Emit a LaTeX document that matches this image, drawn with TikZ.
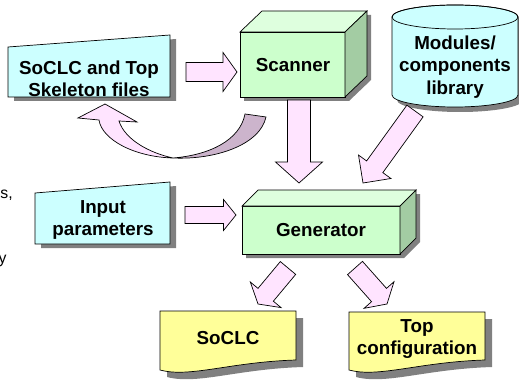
\documentclass[tikz,border=0pt]{standalone}
\usepackage{fontspec}
\setmainfont{Liberation Sans}
\usetikzlibrary{calc}
\definecolor{BoxCyan}{RGB}{204,255,255}
\definecolor{BoxGreen}{RGB}{204,255,204}
\definecolor{TopGreen}{RGB}{222,255,222}
\definecolor{SideGreen}{RGB}{163,204,163}
\definecolor{DocYellow}{RGB}{255,255,153}
\definecolor{ArrowPink}{RGB}{255,228,255}
\definecolor{ArrowMauve}{RGB}{204,180,204}
\definecolor{ShadowGray}{RGB}{128,128,128}

\tikzset{
  boxline/.style={draw=black,line width=0.4pt},
  boxtext/.style={font=\fontsize{10.7}{12.8}\selectfont\bfseries,align=center,inner sep=0pt},
  cuttext/.style={font=\fontsize{9}{11}\selectfont,anchor=base east,inner sep=0pt},
  fatarrow/.style={draw=black,fill=ArrowPink,line width=0.4pt,line join=miter},
}

% block arrow: from, to, half body, half head, head length
\newcommand{\blockarrow}[5]{%
  \coordinate (ba head) at ($(#2)!#5!(#1)$);
  \draw[fatarrow] ($(#1)!#3!90:(#2)$) -- ($(ba head)!#3!90:(#2)$)
    -- ($(ba head)!#4!90:(#2)$) -- (#2)
    -- ($(ba head)!#4!-90:(#2)$) -- ($(ba head)!#3!-90:(#2)$)
    -- ($(#1)!#3!-90:(#2)$) -- cycle;}

\begin{document}
\begin{tikzpicture}[x=0.02cm,y=-0.02cm]
\useasboundingbox (0,0) rectangle (519,381);

% clipped text at the left border
\node[cuttext] (cut1) at (13,198) {s,};
\node[cuttext] (cut2) at (7,263) {y};

% input files
\fill[ShadowGray] (14,51) -- (176,39) -- (176,101) -- (14,101) -- cycle;
\draw[boxline,fill=BoxCyan] (8,47) -- (170,35) -- (170,97) -- (8,97) -- cycle;
\node[boxtext] (files) at (89,79) {SoCLC and Top\\Skeleton files};

\fill[ShadowGray] (41,197) -- (176,186) -- (176,248) -- (41,248) -- cycle;
\draw[boxline,fill=BoxCyan] (35,193) -- (170,182) -- (170,244) -- (35,244) -- cycle;
\node[boxtext] (input) at (103,220) {Input\\parameters};

% scanner
\fill[ShadowGray] (244,101) -- (244,36) -- (266,15) -- (371,15) -- (371,80) -- (349,101) -- cycle;
\draw[boxline,fill=BoxGreen] (240,32) rectangle (345,97);
\draw[boxline,fill=TopGreen] (240,32) -- (262,11) -- (367,11) -- (345,32) -- cycle;
\draw[boxline,fill=SideGreen] (345,32) -- (367,11) -- (367,76) -- (345,97) -- cycle;
\node[boxtext] (scanner) at (293,65) {Scanner};

% generator
\fill[ShadowGray] (246,258) -- (246,210) -- (262,194) -- (420,194) -- (420,242) -- (404,258) -- cycle;
\draw[boxline,fill=BoxGreen] (242,206) rectangle (400,254);
\draw[boxline,fill=TopGreen] (242,206) -- (258,190) -- (416,190) -- (400,206) -- cycle;
\draw[boxline,fill=SideGreen] (400,206) -- (416,190) -- (416,238) -- (400,254) -- cycle;
\node[boxtext] (generator) at (321,230) {Generator};

% library
\fill[ShadowGray] (397,22) -- (397,100) arc (180:0:63 and 12) -- (523,22) arc (360:180:63 and 12) -- cycle;
\draw[boxline,fill=BoxCyan] (392,17) -- (392,95) arc (180:0:63 and 12) -- (518,17) arc (360:180:63 and 12) -- cycle;
\draw[boxline] (455,17) ellipse (63 and 12);
\node[boxtext] (library) at (455,67) {Modules/\\components\\library};

% output documents
\fill[ShadowGray] (167,318) -- (303,318) -- (303,367) .. controls (237,369) and (197,385) .. (167,377) -- cycle;
\draw[boxline,fill=DocYellow] (160,311) -- (296,311) -- (296,360) .. controls (230,362) and (190,378) .. (160,370) -- cycle;
\node[boxtext] (soclc) at (228,338) {SoCLC};

\fill[ShadowGray] (356,319) -- (492,319) -- (492,367) .. controls (426,369) and (386,385) .. (356,377) -- cycle;
\draw[boxline,fill=DocYellow] (349,312) -- (485,312) -- (485,360) .. controls (419,362) and (379,378) .. (349,370) -- cycle;
\node[boxtext] (topconf) at (417,339) {Top\\configuration};

% arrow ends
\coordinate (files e) at (186,72);
\coordinate (scanner w) at (237,72);
\coordinate (input e) at (185,215);
\coordinate (generator w) at (236,215);
\coordinate (scanner s) at (299,100);
\coordinate (generator n) at (299,183);
\coordinate (library sw) at (415,111);
\coordinate (generator ne) at (363,183);
\coordinate (generator sw) at (288,268);
\coordinate (soclc n) at (258,304);
\coordinate (generator se) at (355,268);
\coordinate (topconf n) at (387,304);

\blockarrow{files e}{scanner w}{0.19cm}{0.39cm}{0.28cm}
\blockarrow{input e}{generator w}{0.17cm}{0.31cm}{0.25cm}
\blockarrow{scanner s}{generator n}{0.23cm}{0.47cm}{0.42cm}
\blockarrow{library sw}{generator ne}{0.2cm}{0.4cm}{0.4cm}
\blockarrow{generator sw}{soclc n}{0.2cm}{0.4cm}{0.24cm}
\blockarrow{generator se}{topconf n}{0.2cm}{0.4cm}{0.24cm}

% scanner back to the files
\draw[boxline,fill=ArrowMauve] (173,158) .. controls (215,160) and (260,145) .. (266,117)
  -- (245,114) .. controls (240,140) and (210,155) .. (173,158) -- cycle;
\draw[boxline,fill=ArrowPink] (99,120) -- (78,118) -- (105,104) -- (137,122) -- (119,121)
  .. controls (125,140) and (150,153) .. (173,158)
  .. controls (135,157) and (102,140) .. (99,120) -- cycle;

\end{tikzpicture}
\end{document}
